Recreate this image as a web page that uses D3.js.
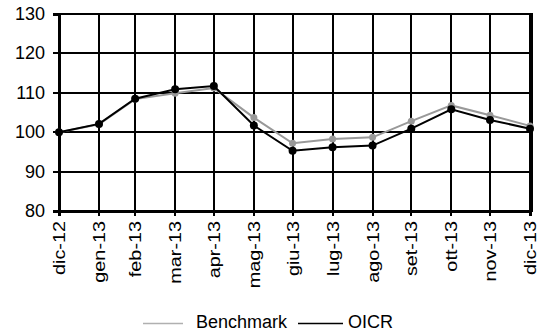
<!DOCTYPE html>
<html><head><meta charset="utf-8">
<script src="https://cdn.jsdelivr.net/npm/d3@7"></script>
<style>body{margin:0;background:#fff;} text{font-family:"Liberation Sans",Arial,sans-serif;fill:#000;}</style>
</head><body>
<svg id="c" width="543" height="333"></svg>
<script>
const dates = ["2012-12-31","2013-01-31","2013-02-28","2013-03-31","2013-04-30","2013-05-31","2013-06-30","2013-07-31","2013-08-31","2013-09-30","2013-10-31","2013-11-30","2013-12-31"];
const tickLabels = ["dic-12","gen-13","feb-13","mar-13","apr-13","mag-13","giu-13","lug-13","ago-13","set-13","ott-13","nov-13","dic-13"];
const benchmark = [100, 102.0, 108.4, 109.9, 111.2, 103.7, 97.2, 98.3, 98.7, 102.8, 106.8, 104.3, 101.6];
const oicr = [100, 102.1, 108.5, 110.9, 111.7, 101.7, 95.3, 96.2, 96.6, 100.9, 105.8, 103.1, 100.9];
const yTicks = [80, 90, 100, 110, 120, 130];
const seriesNames = ["Benchmark", "OICR"];

const svg = d3.select("#c");
const L = 59, R = 530, T = 14, B = 211;
const parse = d3.utcParse("%Y-%m-%d");
const dts = dates.map(parse);
const x = d3.scaleUtc().domain([dts[0], dts[dts.length-1]]).range([L, R]);
const y = d3.scaleLinear().domain([80, 130]).range([B, T]);
const rx = d => Math.round(x(d)), ry = d => Math.round(y(d));

// grid
const g = svg.append("g").attr("shape-rendering", "crispEdges");
g.selectAll(".hg").data(yTicks).join("line")
  .attr("x1", L).attr("x2", R + 2).attr("y1", ry).attr("y2", ry)
  .attr("stroke", "#000").attr("stroke-width", 2);
g.selectAll(".vg").data(dts).join("line")
  .attr("x1", rx).attr("x2", rx).attr("y1", T - 1).attr("y2", B)
  .attr("stroke", "#000").attr("stroke-width", 2);
g.append("line").attr("x1", R + 2).attr("x2", R + 2).attr("y1", T - 1).attr("y2", B + 1)
  .attr("stroke", "#000").attr("stroke-width", 2);

// y axis
const ya = svg.append("g").attr("transform", `translate(${L},0)`).attr("shape-rendering", "crispEdges")
  .call(d3.axisLeft(y).tickValues(yTicks).tickSize(6).tickPadding(8));
ya.select(".domain").attr("stroke", "#000").attr("stroke-width", 2);
ya.selectAll(".tick").attr("transform", d => `translate(0,${ry(d)})`);
ya.selectAll(".tick line").attr("stroke", "#000").attr("stroke-width", 2);
ya.selectAll(".tick text").style("font-size", "18px").attr("dy", "0.36em");

// x axis
const xa = svg.append("g").attr("transform", `translate(0,${B})`).attr("shape-rendering", "crispEdges")
  .call(d3.axisBottom(x).tickValues(dts).tickFormat((d, i) => tickLabels[i]).tickSize(5));
xa.select(".domain").attr("stroke", "#000").attr("stroke-width", 2);
xa.selectAll(".tick").attr("transform", d => `translate(${rx(d)},0)`);
xa.selectAll(".tick line").attr("stroke", "#000").attr("stroke-width", 2);
xa.selectAll(".tick text")
  .style("font-size", "18px")
  .attr("text-anchor", "end")
  .attr("y", 0).attr("dy", 0)
  .attr("transform", "translate(6,10) rotate(-90) scale(1.1,0.92)");

// series
const line = d3.line().x((d, i) => x(dts[i])).y(d => y(d));
const series = [
  {name: seriesNames[0], vals: benchmark, color: "#999", r: 3.5},
  {name: seriesNames[1], vals: oicr, color: "#000", r: 4}
];
series.forEach(s => {
  svg.append("path").datum(s.vals).attr("d", line)
    .attr("fill", "none").attr("stroke", s.color).attr("stroke-width", 2);
  svg.selectAll(null).data(s.vals).join("circle")
    .attr("cx", (d, i) => x(dts[i])).attr("cy", d => y(d)).attr("r", s.r)
    .attr("fill", s.color);
});

// legend
const lg = svg.append("g");
const legItems = [
  {name: seriesNames[0], color: "#b0b0b0", x1: 143, x2: 183, tx: 196},
  {name: seriesNames[1], color: "#000", x1: 298, x2: 343, tx: 348}
];
legItems.forEach(it => {
  lg.append("line").attr("x1", it.x1).attr("x2", it.x2).attr("y1", 323.5).attr("y2", 323.5)
    .attr("stroke", it.color).attr("stroke-width", 1.5);
  lg.append("text").attr("x", it.tx).attr("y", 328).style("font-size", "18px").text(it.name);
});
</script>
</body></html>
